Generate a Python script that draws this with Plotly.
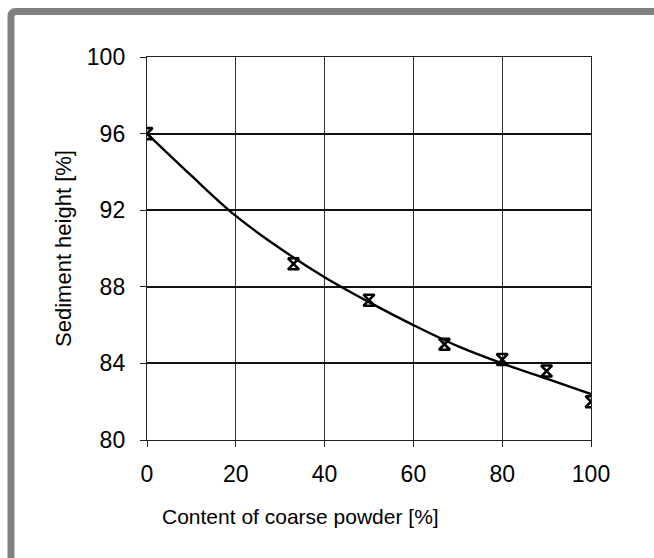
import plotly.graph_objects as go

# Measured sediment heights vs. coarse powder fraction
coarse_content = [0, 33, 50, 67, 80, 90, 100]
sediment_height = [96.0, 89.2, 87.3, 85.0, 84.2, 83.6, 82.0]

# Trend curve read at regular steps
trend_x = [0, 10, 20, 30, 40, 50, 60, 70, 80, 90, 100]
trend_y = [96.0, 93.8, 91.7, 90.0, 88.5, 87.2, 86.0, 84.9, 84.0, 83.2, 82.4]

x_ticks = [0, 20, 40, 60, 80, 100]
y_ticks = [80, 84, 88, 92, 96, 100]

FONT = "Liberation Sans, Arial, sans-serif"

fig = go.Figure()

fig.add_trace(go.Scatter(
    x=trend_x, y=trend_y, mode="lines",
    line=dict(color="black", width=2.4, shape="spline", smoothing=1.0),
    hoverinfo="skip", showlegend=False,
))

fig.add_trace(go.Scatter(
    x=coarse_content, y=sediment_height, mode="markers",
    marker=dict(symbol="hourglass-open", size=11, color="black",
                line=dict(color="black", width=2.6)),
    showlegend=False,
))

fig.update_xaxes(
    range=[0, 100], tickvals=x_ticks, ticktext=[str(v) for v in x_ticks],
    showgrid=True, gridcolor="#333333", gridwidth=1.2,
    showline=True, linecolor="#222222", linewidth=1.4, mirror=True,
    ticks="outside", ticklen=6, tickcolor="#222222", tickwidth=1.3,
    ticklabelstandoff=7,
    zeroline=False,
    tickfont=dict(family=FONT, size=23, color="black"),
)
fig.update_yaxes(
    range=[80, 100], tickvals=y_ticks, ticktext=[str(v) for v in y_ticks],
    showgrid=True, gridcolor="#111111", gridwidth=1.7,
    showline=True, linecolor="#222222", linewidth=1.4, mirror=True,
    ticks="outside", ticklen=6, tickcolor="#222222", tickwidth=1.3,
    ticklabelstandoff=10,
    zeroline=False,
    tickfont=dict(family=FONT, size=23, color="black"),
    title=dict(text="Sediment height [%]",
               font=dict(family=FONT, size=22, color="black"), standoff=9),
)

# x-axis title, set left of the plot centre
fig.add_annotation(
    text="Content of coarse powder [%]", xref="paper", yref="paper",
    x=0.345, y=-0.201, xanchor="center", yanchor="middle", showarrow=False,
    font=dict(family=FONT, size=21, color="black"),
)

# Grey frame around the figure (top and left edges, rounded corner)
L, T, B, R = -0.3063, 1.1188, -0.32, 1.16
rx, ry = 0.0113, 0.0131
frame_path = (f"M {L},{B} L {L},{T - ry} Q {L},{T} {L + rx},{T} L {R},{T}")
fig.add_shape(type="path", path=frame_path, xref="paper", yref="paper",
              line=dict(color="#808080", width=7), layer="above")

fig.update_layout(
    width=654, height=558,
    margin=dict(l=147, r=63, t=57, b=118),
    paper_bgcolor="white", plot_bgcolor="white",
    font=dict(family=FONT, color="black"),
)

fig.write_html("out.html")
